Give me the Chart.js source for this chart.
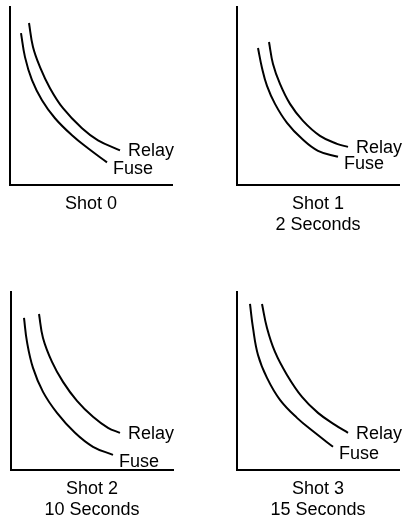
<!DOCTYPE html>
<html>
<head>
<meta charset="utf-8">
<script src="https://cdn.jsdelivr.net/npm/chart.js@4"></script>
<style>
  html, body { margin: 0; padding: 0; background: #fff; }
  #wrap { position: relative; width: 403px; height: 522px; }
  #wrap canvas { position: absolute; }
</style>
</head>
<body>
<div id="wrap">
  <canvas id="shot0" width="200" height="261" style="left:0;top:0"></canvas>
  <canvas id="shot1" width="203" height="261" style="left:200px;top:0"></canvas>
  <canvas id="shot2" width="200" height="261" style="left:0;top:261px"></canvas>
  <canvas id="shot3" width="203" height="261" style="left:200px;top:261px"></canvas>
</div>
<script>
// Leyendas de cada disparo
const captions = [
    ['Shot 0'],
    ['Shot 1', '2 Seconds'],
    ['Shot 2', '10 Seconds'],
    ['Shot 3', '15 Seconds']
];

// Curvas (corriente -> tiempo, unidades arbitrarias)
const fuse0X = [11, 15, 22, 32, 45, 62, 78, 97];
const fuse0Y = [152, 128, 105, 85, 67, 50, 37, 23];
const relay0X = [19, 23, 30, 40, 53, 72, 88, 110];
const relay0Y = [162, 138, 118, 97, 77, 57, 45, 35];

const fuse1X = [21, 25, 30, 38, 50, 65, 81, 101];
const fuse1Y = [137, 117, 99, 81, 62, 46, 34, 28];
const relay1X = [32, 36, 43, 53, 66, 83, 100, 111];
const relay1Y = [143, 121, 101, 81, 64, 49, 41, 38];

const fuse2X = [13, 16, 22, 32, 46, 64, 82, 102];
const fuse2Y = [152, 128, 102, 78, 57, 37, 23, 15];
const relay2X = [28, 32, 41, 52, 66, 82, 97, 109];
const relay2Y = [156, 132, 108, 88, 69, 53, 42, 37];

const fuse3X = [13, 16, 21, 30, 43, 60, 78, 96];
const fuse3Y = [166, 142, 115, 92, 70, 52, 37, 23];
const relay3X = [25, 30, 38, 50, 65, 81, 98, 111];
const relay3Y = [166, 142, 118, 95, 73, 57, 45, 37];

const FONT = '"Liberation Sans", Arial, sans-serif';

// Escribe "Relay" / "Fuse" al final de cada curva
const curveLabels = {
    id: 'curveLabels',
    afterDatasetsDraw(chart) {
        const ctx = chart.ctx;
        ctx.save();
        ctx.font = '18px ' + FONT;
        ctx.fillStyle = '#000';
        ctx.textBaseline = 'middle';
        ctx.textAlign = 'left';
        chart.data.datasets.forEach((ds, i) => {
            const pts = chart.getDatasetMeta(i).data;
            const last = pts[pts.length - 1];
            ctx.fillText(ds.label, last.x + ds.labelDx, last.y + ds.labelDy);
        });
        ctx.restore();
    }
};

function toPoints(xs, ys) {
    return xs.map((x, i) => ({ x: x, y: ys[i] }));
}

function curve(label, xs, ys, dx, dy) {
    return {
        label: label,
        data: toPoints(xs, ys),
        showLine: true,
        borderColor: '#000',
        borderWidth: 2,
        pointRadius: 0,
        tension: 0.4,
        labelDx: dx,
        labelDy: dy
    };
}

function renderShot(id, caption, fuseX, fuseY, relayX, relayY, padding) {
    const ctx = document.getElementById(id).getContext('2d');
    const hiddenAxis = {
        type: 'linear',
        min: 0,
        ticks: { display: false },
        grid: { display: false, drawTicks: false },
        border: { display: true, color: '#000', width: 2 }
    };
    return new Chart(ctx, {
        type: 'scatter',
        data: {
            datasets: [
                curve('Relay', relayX, relayY, 8, 1),
                curve('Fuse', fuseX, fuseY, 6, 7)
            ]
        },
        options: {
            responsive: false,
            animation: false,
            layout: { padding: padding },
            scales: {
                x: Object.assign({}, hiddenAxis, { max: 162 }),
                y: Object.assign({}, hiddenAxis, { max: 178 })
            },
            plugins: {
                legend: { display: false },
                tooltip: { enabled: false },
                title: {
                    display: true,
                    position: 'bottom',
                    text: caption,
                    color: '#000',
                    font: { family: FONT, size: 18, weight: 'normal', lineHeight: 1.2 },
                    padding: { top: 8, bottom: 0 }
                }
            }
        },
        plugins: [curveLabels]
    });
}

renderShot('shot0', captions[0], fuse0X, fuse0Y, relay0X, relay0Y, { left: 10, right: 28, top: 7, bottom: 46 });
renderShot('shot1', captions[1], fuse1X, fuse1Y, relay1X, relay1Y, { left: 37, right: 4, top: 7, bottom: 25 });
renderShot('shot2', captions[2], fuse2X, fuse2Y, relay2X, relay2Y, { left: 11, right: 27, top: 31, bottom: 1 });
renderShot('shot3', captions[3], fuse3X, fuse3Y, relay3X, relay3Y, { left: 37, right: 4, top: 31, bottom: 1 });
</script>
</body>
</html>
